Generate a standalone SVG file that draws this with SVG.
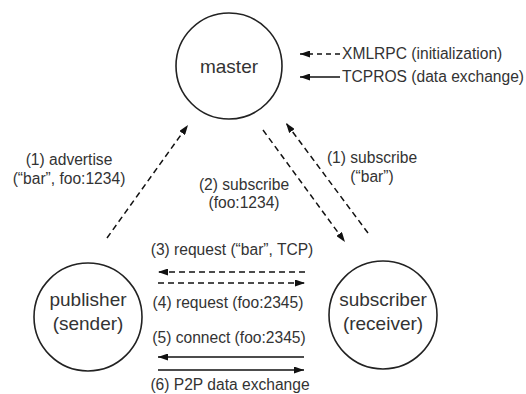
<svg xmlns="http://www.w3.org/2000/svg" width="526" height="394" viewBox="0 0 526 394">
  <defs>
    <marker id="head" viewBox="0 0 10 7" refX="10" refY="3.5" markerWidth="10" markerHeight="7" markerUnits="userSpaceOnUse" orient="auto">
      <path d="M0,0 L10,3.5 L0,7 z" fill="#111"/>
    </marker>
    <style>
      .node circle { fill: #fff; stroke: #222; stroke-width: 1.6; }
      .node text { font-family: "Liberation Sans", Arial, sans-serif; font-size: 19px; fill: #333; text-anchor: middle; }
      .label { font-family: "Liberation Sans", Arial, sans-serif; font-size: 15.6px; fill: #333; text-anchor: middle; }
      .legend { text-anchor: start; }
      .link { fill: none; stroke: #111; stroke-width: 1.5; marker-end: url(#head); }
      .rpc { stroke-dasharray: 6 4; }
    </style>
  </defs>

  <!-- nodes -->
  <g id="master" class="node">
    <circle cx="229" cy="66" r="53"/>
    <text x="229" y="73">master</text>
  </g>
  <g id="publisher" class="node">
    <circle cx="88" cy="317" r="54"/>
    <text x="88" y="306">publisher</text>
    <text x="88" y="330">(sender)</text>
  </g>
  <g id="subscriber" class="node">
    <circle cx="383" cy="315" r="54"/>
    <text x="383" y="306">subscriber</text>
    <text x="383" y="330">(receiver)</text>
  </g>

  <!-- connectors -->
  <g id="connectors">
    <line class="link rpc" x1="107" y1="238" x2="188" y2="125"/>
    <line class="link rpc" x1="263" y1="130" x2="345" y2="242"/>
    <line class="link rpc" x1="368" y1="233" x2="286" y2="123"/>
    <line class="link rpc" x1="305" y1="272" x2="158" y2="272"/>
    <line class="link rpc" x1="158" y1="283" x2="305" y2="283"/>
    <line class="link" x1="304" y1="357" x2="158" y2="357"/>
    <line class="link" x1="158" y1="370" x2="304" y2="370"/>
    <!-- legend arrows -->
    <line class="link" style="stroke-dasharray:5 4" x1="340" y1="54" x2="300" y2="54"/>
    <line class="link" x1="340" y1="77" x2="300" y2="77"/>
  </g>

  <!-- connector labels -->
  <g id="labels">
    <text class="label" x="69" y="165">(1) advertise</text>
    <text class="label" x="69" y="184">(“bar”, foo:1234)</text>
    <text class="label" x="244" y="190">(2) subscribe</text>
    <text class="label" x="244" y="208">(foo:1234)</text>
    <text class="label" x="372" y="163">(1) subscribe</text>
    <text class="label" x="372" y="182">(“bar”)</text>
    <text class="label" x="232" y="255">(3) request (“bar”, TCP)</text>
    <text class="label" x="228" y="308">(4) request (foo:2345)</text>
    <text class="label" x="229" y="343">(5) connect (foo:2345)</text>
    <text class="label" x="230" y="390">(6) P2P data exchange</text>
    <text class="label legend" x="342" y="59">XMLRPC (initialization)</text>
    <text class="label legend" x="342" y="82">TCPROS (data exchange)</text>
  </g>
</svg>
